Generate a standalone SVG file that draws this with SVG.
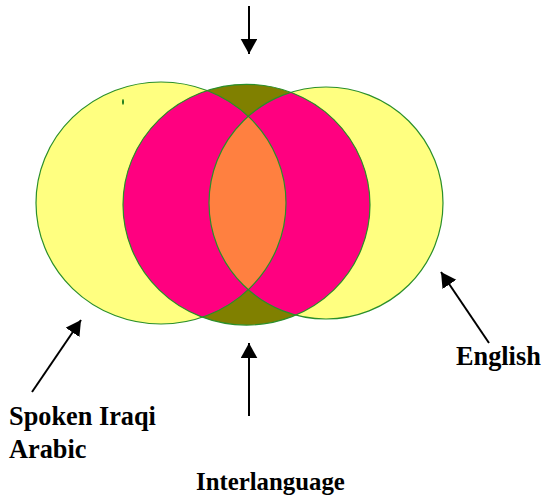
<svg xmlns="http://www.w3.org/2000/svg" width="543" height="498" viewBox="0 0 543 498">
<style>
.edge{fill:none;stroke:#2a8f2a;stroke-width:1.2}
.lbl{font-family:"Liberation Serif","Times New Roman",serif;font-weight:bold;font-size:26.3px;fill:#000}
.lbl2{font-family:"Liberation Serif","Times New Roman",serif;font-weight:bold;font-size:24.8px;fill:#000}
.conn{stroke:#000;stroke-width:2;fill:none}
</style>
<defs>
<clipPath id="clipC"><ellipse cx="246.5" cy="204.7" rx="123.5" ry="120.4"/></clipPath>
<clipPath id="clipL"><ellipse cx="161" cy="203" rx="125" ry="121"/></clipPath>
<marker id="ah" markerUnits="userSpaceOnUse" markerWidth="16" markerHeight="17" refX="15" refY="8.3" orient="auto">
<path d="M0,0 L15,8.3 L0,16.6 z" fill="#000"/>
</marker>
</defs>
<rect width="543" height="498" fill="#fff"/>
<g id="spoken-iraqi-arabic-circle">
<ellipse cx="161" cy="203" rx="125" ry="121" fill="#ffff80"/>
</g>
<g id="english-circle">
<ellipse cx="326" cy="203" rx="117" ry="116" fill="#ffff80"/>
</g>
<g id="interlanguage-circle">
<ellipse cx="246.5" cy="204.7" rx="123.5" ry="120.4" fill="#808000"/>
<g clip-path="url(#clipC)">
<ellipse cx="161" cy="203" rx="125" ry="121" fill="#ff0080"/>
<ellipse cx="326" cy="203" rx="117" ry="116" fill="#ff0080"/>
</g>
<ellipse cx="326" cy="203" rx="117" ry="116" fill="#ff8040" clip-path="url(#clipL)"/>
</g>
<g id="outlines">
<ellipse class="edge" cx="161" cy="203" rx="125" ry="121"/>
<ellipse class="edge" cx="326" cy="203" rx="117" ry="116"/>
<ellipse class="edge" cx="246.5" cy="204.7" rx="123.5" ry="120.4"/>
<ellipse cx="123" cy="102" rx="1" ry="3" fill="#1a7a1a"/>
</g>
<g id="connectors">
<line class="conn" x1="249" y1="6" x2="249" y2="54" marker-end="url(#ah)"/>
<line class="conn" x1="249" y1="416" x2="249" y2="343" marker-end="url(#ah)"/>
<line class="conn" x1="32" y1="392" x2="81" y2="320" marker-end="url(#ah)"/>
<line class="conn" x1="489" y1="343" x2="441" y2="272" marker-end="url(#ah)"/>
</g>
<g id="label-english"><text class="lbl" x="456" y="365">English</text></g>
<g id="label-spoken-iraqi-arabic"><text class="lbl" x="9" y="425">Spoken Iraqi</text><text class="lbl" x="9" y="458">Arabic</text></g>
<g id="label-interlanguage"><text class="lbl2" x="196" y="490">Interlanguage</text></g>
</svg>
